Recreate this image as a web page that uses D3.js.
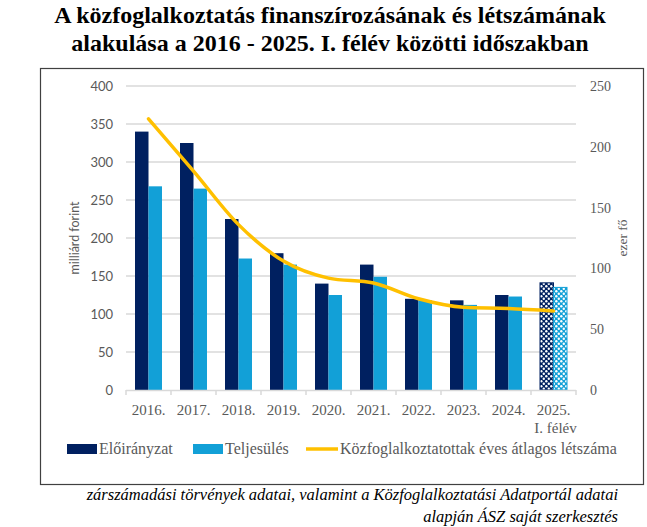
<!DOCTYPE html>
<html>
<head>
<meta charset="utf-8">
<script src="https://cdn.jsdelivr.net/npm/d3@7"></script>
<style>
  body { margin: 0; background: #fff; }
  .tick_left { font-family: Lato, sans-serif; font-size: 13px; fill: #595959; }
  .tick_right { font-family: "Liberation Serif", serif; font-size: 14px; fill: #595959; }
  .xlab { font-family: "Liberation Serif", serif; font-size: 15px; fill: #595959; }
  .legend_txt { font-family: "Liberation Serif", serif; font-size: 16px; fill: #595959; }
  .title { font-family: "Liberation Serif", serif; font-size: 24px; font-weight: bold; fill: #000; }
  .note { font-family: "Liberation Serif", serif; font-size: 16.5px; font-style: italic; fill: #000; }
</style>
</head>
<body>
<div class="chart"></div>
<script>
const years = ["2016.", "2017.", "2018.", "2019.", "2020.", "2021.", "2022.", "2023.", "2024.", "2025."]
const eloiranyzat = [340, 325, 225, 180, 140, 165, 120, 118, 125, 141]
const teljesules = [268, 265, 173, 165, 125, 149, 118, 112, 123, 135]
const letszam = [223, 180, 136, 106, 92, 88, 75, 68, 67, 65]
const leftTicks = [0, 50, 100, 150, 200, 250, 300, 350, 400]
const rightTicks = [0, 50, 100, 150, 200, 250]
const seriesNames = ["Előirányzat", "Teljesülés", "Közfoglalkoztatottak éves átlagos létszáma"]
const titleLines = ["A közfoglalkoztatás finanszírozásának és létszámának", "alakulása a 2016 - 2025. I. félév közötti időszakban"]
const noteLines = ["zárszámadási törvények adatai, valamint a Közfoglalkoztatási Adatportál adatai", "alapján ÁSZ saját szerkesztés"]

const dark = "#002060"
const light = "#12A0D7"
const gold = "#FFC000"

const width = 647
const height = 527
const margin = { top: 86, right: 71, bottom: 137, left: 126 }

const svg = d3.select(".chart")
    .append("svg")
    .attr("width", width)
    .attr("height", height)

// patterns for 2025 half-year bars
const defs = svg.append("defs")
function dotPattern(id, col) {
    const p = defs.append("pattern")
        .attr("id", id)
        .attr("patternUnits", "userSpaceOnUse")
        .attr("width", 5)
        .attr("height", 5)
    p.append("rect").attr("width", 5).attr("height", 5).attr("fill", col)
    p.append("circle").attr("cx", 1.3).attr("cy", 1.3).attr("r", 1.2).attr("fill", "#fff")
    p.append("circle").attr("cx", 3.8).attr("cy", 3.8).attr("r", 1.2).attr("fill", "#fff")
}
dotPattern("pat_dark", dark)
dotPattern("pat_light", light)

// title
svg.append("g")
    .selectAll("text")
    .data(titleLines)
    .join("text")
    .attr("class", "title")
    .attr("x", 330)
    .attr("y", (d, i) => 23 + i * 28)
    .attr("text-anchor", "middle")
    .text(d => d)

// frame
svg.append("rect")
    .attr("x", 40.5)
    .attr("y", 68.5)
    .attr("width", 603)
    .attr("height", 416)
    .attr("fill", "none")
    .attr("stroke", "#404040")
    .attr("stroke-width", 1.2)

const x = d3.scaleBand()
    .domain(years)
    .range([margin.left, width - margin.right])

const yL = d3.scaleLinear().domain([0, 400]).range([390, margin.top])
const yR = d3.scaleLinear().domain([0, 250]).range([390, margin.top])

// gridlines
svg.append("g")
    .selectAll("line")
    .data(leftTicks.slice(1))
    .join("line")
    .attr("x1", margin.left)
    .attr("x2", width - margin.right)
    .attr("y1", d => yL(d))
    .attr("y2", d => yL(d))
    .attr("stroke", "#D9D9D9")
    .attr("stroke-width", 1.5)

// left axis
const axL = svg.append("g")
    .attr("transform", `translate(${margin.left},0)`)
    .call(d3.axisLeft(yL).tickValues(leftTicks).tickSize(0).tickPadding(13))
axL.select(".domain").remove()
axL.selectAll("text").attr("class", "tick_left").attr("font-family", null).attr("font-size", null)

// right axis
const axR = svg.append("g")
    .attr("transform", `translate(${width - margin.right},0)`)
    .call(d3.axisRight(yR).tickValues(rightTicks).tickSize(0).tickPadding(14))
axR.select(".domain").remove()
axR.selectAll("text").attr("class", "tick_right").attr("font-family", null).attr("font-size", null)

// axis titles
svg.append("text")
    .attr("transform", `translate(79,238) rotate(-90)`)
    .attr("text-anchor", "middle")
    .attr("font-family", "Lato, sans-serif")
    .attr("font-size", 12.5)
    .attr("fill", "#595959")
    .text("milliárd forint")

svg.append("text")
    .attr("transform", `translate(627,238) rotate(-90)`)
    .attr("text-anchor", "middle")
    .attr("font-family", "Liberation Serif, serif")
    .attr("font-size", 13.5)
    .attr("fill", "#595959")
    .text("ezer fő")

// bars
const bw = 13.5
const last = years[years.length - 1]

svg.append("g")
    .selectAll("rect")
    .data(years)
    .join("rect")
    .attr("x", d => x(d) + x.bandwidth() / 2 - bw)
    .attr("y", (d, i) => yL(eloiranyzat[i]))
    .attr("width", bw)
    .attr("height", (d, i) => yL(0) - yL(eloiranyzat[i]))
    .attr("fill", d => d == last ? "url(#pat_dark)" : dark)
    .attr("stroke", d => d == last ? dark : "none")

svg.append("g")
    .selectAll("rect")
    .data(years)
    .join("rect")
    .attr("x", d => x(d) + x.bandwidth() / 2)
    .attr("y", (d, i) => yL(teljesules[i]))
    .attr("width", bw)
    .attr("height", (d, i) => yL(0) - yL(teljesules[i]))
    .attr("fill", d => d == last ? "url(#pat_light)" : light)
    .attr("stroke", d => d == last ? light : "none")

// x axis line + ticks
svg.append("line")
    .attr("x1", margin.left)
    .attr("x2", width - margin.right)
    .attr("y1", 390.5)
    .attr("y2", 390.5)
    .attr("stroke", "#D9D9D9")
    .attr("stroke-width", 1.5)

svg.append("g")
    .selectAll("line")
    .data(years.concat(["end"]))
    .join("line")
    .attr("x1", d => d == "end" ? width - margin.right : x(d))
    .attr("x2", d => d == "end" ? width - margin.right : x(d))
    .attr("y1", 390)
    .attr("y2", 395)
    .attr("stroke", "#D9D9D9")
    .attr("stroke-width", 1.5)

svg.append("g")
    .selectAll("text")
    .data(years)
    .join("text")
    .attr("class", "xlab")
    .attr("x", d => x(d) + x.bandwidth() / 2)
    .attr("y", 415)
    .attr("text-anchor", "middle")
    .text(d => d)

svg.append("text")
    .attr("class", "xlab")
    .attr("x", x(last) + x.bandwidth() / 2 + 2)
    .attr("y", 433)
    .attr("text-anchor", "middle")
    .text("I. félév")

// line
const line = d3.line()
    .x((d, i) => x(years[i]) + x.bandwidth() / 2)
    .y(d => yR(d))
    .curve(d3.curveMonotoneX)

svg.append("path")
    .datum(letszam)
    .attr("d", line)
    .attr("fill", "none")
    .attr("stroke", gold)
    .attr("stroke-width", 3.5)
    .attr("stroke-linecap", "round")

// legend
const legY = 449
svg.append("rect").attr("x", 67).attr("y", legY - 5).attr("width", 30).attr("height", 10).attr("fill", dark)
svg.append("rect").attr("x", 193).attr("y", legY - 5).attr("width", 30).attr("height", 10).attr("fill", light)
svg.append("line").attr("x1", 306).attr("x2", 338).attr("y1", legY).attr("y2", legY)
    .attr("stroke", gold).attr("stroke-width", 3.5)

svg.append("g")
    .selectAll("text")
    .data(seriesNames)
    .join("text")
    .attr("class", "legend_txt")
    .attr("x", (d, i) => [99, 225, 340][i])
    .attr("y", legY + 5)
    .text(d => d)

// source note
svg.append("g")
    .selectAll("text")
    .data(noteLines)
    .join("text")
    .attr("class", "note")
    .attr("x", 618)
    .attr("y", (d, i) => 500 + i * 22)
    .attr("text-anchor", "end")
    .text(d => d)
</script>
</body>
</html>
